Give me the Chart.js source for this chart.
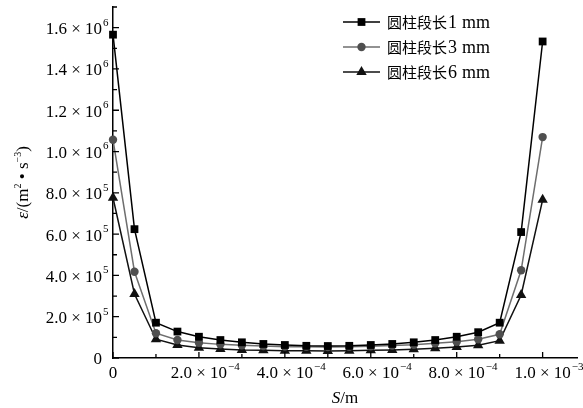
<!DOCTYPE html>
<html>
<head>
<meta charset="utf-8">
<script src="https://cdn.jsdelivr.net/npm/chart.js@4.4.1/dist/chart.umd.min.js"></script>
<style>
  html, body { margin: 0; padding: 0; background: #fff; }
  #wrap { width: 583px; height: 408px; position: relative; }
</style>
</head>
<body>
<div id="wrap"><canvas id="chart"></canvas></div>
<script>
// distance along the section S (m)
const positions = [0, 0.00005, 0.0001, 0.00015, 0.0002, 0.00025, 0.0003, 0.00035, 0.0004, 0.00045,
  0.0005, 0.00055, 0.0006, 0.00065, 0.0007, 0.00075, 0.0008, 0.00085, 0.0009, 0.00095, 0.001];

// dissipation rate epsilon (m^2/s^3)
const len1mm = [1566000, 624000, 171000, 128000, 103000, 87000, 76000, 68000, 63000, 59000,
  58000, 59000, 63000, 68000, 76000, 87000, 103000, 125000, 171000, 610000, 1533000];
const len3mm = [1057000, 418000, 120000, 87000, 74000, 66000, 62000, 58000, 55000, 54000,
  53000, 54000, 57000, 60000, 64000, 71000, 79000, 91000, 115000, 425000, 1070000];
const len6mm = [776000, 310000, 91000, 63000, 50000, 44000, 39000, 37000, 35000, 35000,
  34000, 35000, 37000, 39000, 42000, 47000, 53000, 62000, 84000, 305000, 766000];

const seriesLabels = ["圆柱段长1 mm", "圆柱段长3 mm", "圆柱段长6 mm"];

const xTickValues = [0, 0.0002, 0.0004, 0.0006, 0.0008, 0.001];
const xTickLabels = ["0", "2.0 × 10^−4", "4.0 × 10^−4", "6.0 × 10^−4", "8.0 × 10^−4", "1.0 × 10^−3"];
const xMinorTicks = [0.0001, 0.0003, 0.0005, 0.0007, 0.0009];

const yTickValues = [0, 200000, 400000, 600000, 800000, 1000000, 1200000, 1400000, 1600000];
const yTickLabels = ["0", "2.0 × 10^5", "4.0 × 10^5", "6.0 × 10^5", "8.0 × 10^5",
  "1.0 × 10^6", "1.2 × 10^6", "1.4 × 10^6", "1.6 × 10^6"];
const yMinorTicks = [100000, 300000, 500000, 700000, 900000, 1100000, 1300000, 1500000, 1700000];

const SERIF = '"Liberation Serif", "Times New Roman", serif';
const CJK = '"Noto Sans CJK SC", sans-serif';

const styles = [
  { line: "#000", fill: "#000", point: "rect", radius: 5.5 },
  { line: "#6e6e6e", fill: "#4f4f4f", point: "circle", radius: 4.2 },
  { line: "#111", fill: "#111", point: "triangle", radius: 6 }
];
const series = [len1mm, len3mm, len6mm];

function drawWithSup(ctx, text, x, y, align) {
  const parts = text.split("^");
  ctx.font = "17px " + SERIF;
  const wb = ctx.measureText(parts[0]).width;
  let start = align === "right" ? x - wb : x - wb / 2;
  ctx.textAlign = "left";
  ctx.textBaseline = "middle";
  ctx.fillText(parts[0], start, y);
  if (parts[1]) {
    ctx.font = "11px " + SERIF;
    ctx.fillText(parts[1], start + wb + 1, y - 7);
  }
}

const axesPlugin = {
  id: "axesDecor",
  afterDraw(chart) {
    const ctx = chart.ctx;
    const { left, right, top, bottom } = chart.chartArea;
    const xs = chart.scales.x, ys = chart.scales.y;
    ctx.save();
    ctx.strokeStyle = "#000";
    ctx.fillStyle = "#000";
    ctx.lineWidth = 1.3;

    // inward ticks
    ctx.beginPath();
    xTickValues.forEach(v => { const p = xs.getPixelForValue(v); ctx.moveTo(p, bottom); ctx.lineTo(p, bottom - 6); });
    xMinorTicks.forEach(v => { const p = xs.getPixelForValue(v); ctx.moveTo(p, bottom); ctx.lineTo(p, bottom - 4); });
    yTickValues.forEach(v => { const p = ys.getPixelForValue(v); ctx.moveTo(left, p); ctx.lineTo(left + 6, p); });
    yMinorTicks.forEach(v => { const p = ys.getPixelForValue(v); ctx.moveTo(left, p); ctx.lineTo(left + 4, p); });
    ctx.stroke();

    // tick labels
    xTickValues.forEach((v, i) => drawWithSup(ctx, xTickLabels[i], xs.getPixelForValue(v), bottom + 16, "center"));
    yTickValues.forEach((v, i) => drawWithSup(ctx, yTickLabels[i], 102, ys.getPixelForValue(v) + 2, "right"));

    // x title: S/m
    ctx.textBaseline = "alphabetic";
    ctx.font = "italic 17px " + SERIF;
    const wS = ctx.measureText("S").width;
    ctx.font = "17px " + SERIF;
    const wM = ctx.measureText("/m").width;
    let sx = (left + right) / 2 - (wS + wM) / 2;
    ctx.font = "italic 17px " + SERIF;
    ctx.textAlign = "left";
    ctx.fillText("S", sx, 403);
    ctx.font = "17px " + SERIF;
    ctx.fillText("/m", sx + wS, 403);

    // y title: epsilon/(m^2 . s^-3)
    const parts = [
      { t: "ε", f: "italic 17px " + SERIF, dy: 0 },
      { t: "/(m", f: "17px " + SERIF, dy: 0 },
      { t: "2", f: "10px " + SERIF, dy: -7 },
      { t: " • s", f: "17px " + SERIF, dy: 0 },
      { t: "−3", f: "10px " + SERIF, dy: -7 },
      { t: ")", f: "17px " + SERIF, dy: 0 }
    ];
    let total = 0;
    parts.forEach(p => { ctx.font = p.f; p.w = ctx.measureText(p.t).width; total += p.w; });
    ctx.translate(28, (top + bottom) / 2);
    ctx.rotate(-Math.PI / 2);
    let tx = -total / 2;
    parts.forEach(p => { ctx.font = p.f; ctx.fillText(p.t, tx, p.dy); tx += p.w; });
    ctx.restore();

    // legend
    ctx.save();
    const rows = [22, 47, 72];
    seriesLabels.forEach((label, i) => {
      const st = styles[i];
      const y = rows[i];
      ctx.strokeStyle = st.line;
      ctx.lineWidth = 1.5;
      ctx.beginPath(); ctx.moveTo(343, y); ctx.lineTo(380, y); ctx.stroke();
      ctx.fillStyle = st.fill;
      ctx.strokeStyle = st.fill;
      Chart.helpers.drawPoint(ctx, { pointStyle: st.point, radius: st.radius, borderWidth: 0, rotation: 0 }, 361.5, y);
      ctx.fillStyle = "#000";
      ctx.textAlign = "left";
      ctx.textBaseline = "middle";
      const cjk = label.slice(0, 4);
      const rest = label.slice(4).split(" ");
      ctx.font = "15px " + CJK;
      ctx.fillText(cjk, 387, y);
      const wc = ctx.measureText(cjk).width;
      ctx.font = "18px " + SERIF;
      ctx.fillText(rest[0], 387 + wc + 1, y + 1);
      const wd = ctx.measureText(rest[0]).width;
      ctx.fillText(rest[1], 387 + wc + wd + 6, y + 1);
    });
    ctx.restore();
  }
};

new Chart(document.getElementById("chart"), {
  type: "scatter",
  data: {
    datasets: series.map((vals, i) => ({
      label: seriesLabels[i],
      data: positions.map((x, k) => ({ x, y: vals[k] })),
      showLine: true,
      borderColor: styles[i].line,
      backgroundColor: styles[i].fill,
      pointBackgroundColor: styles[i].fill,
      pointBorderColor: styles[i].fill,
      pointBorderWidth: 0,
      borderWidth: 1.5,
      pointStyle: styles[i].point,
      pointRadius: styles[i].radius,
      tension: 0,
      clip: false
    }))
  },
  options: {
    responsive: true,
    maintainAspectRatio: false,
    animation: false,
    layout: { padding: { left: 113, right: 6, top: 7, bottom: 50 } },
    scales: {
      x: {
        type: "linear",
        min: 0,
        max: 0.00108,
        grid: { display: false, drawTicks: false },
        border: { color: "#000", width: 1.5 },
        ticks: { display: false }
      },
      y: {
        type: "linear",
        min: 0,
        max: 1700000,
        grid: { display: false, drawTicks: false },
        border: { color: "#000", width: 1.5 },
        ticks: { display: false }
      }
    },
    plugins: {
      legend: { display: false },
      tooltip: { enabled: false }
    }
  },
  plugins: [axesPlugin]
});
</script>
</body>
</html>
